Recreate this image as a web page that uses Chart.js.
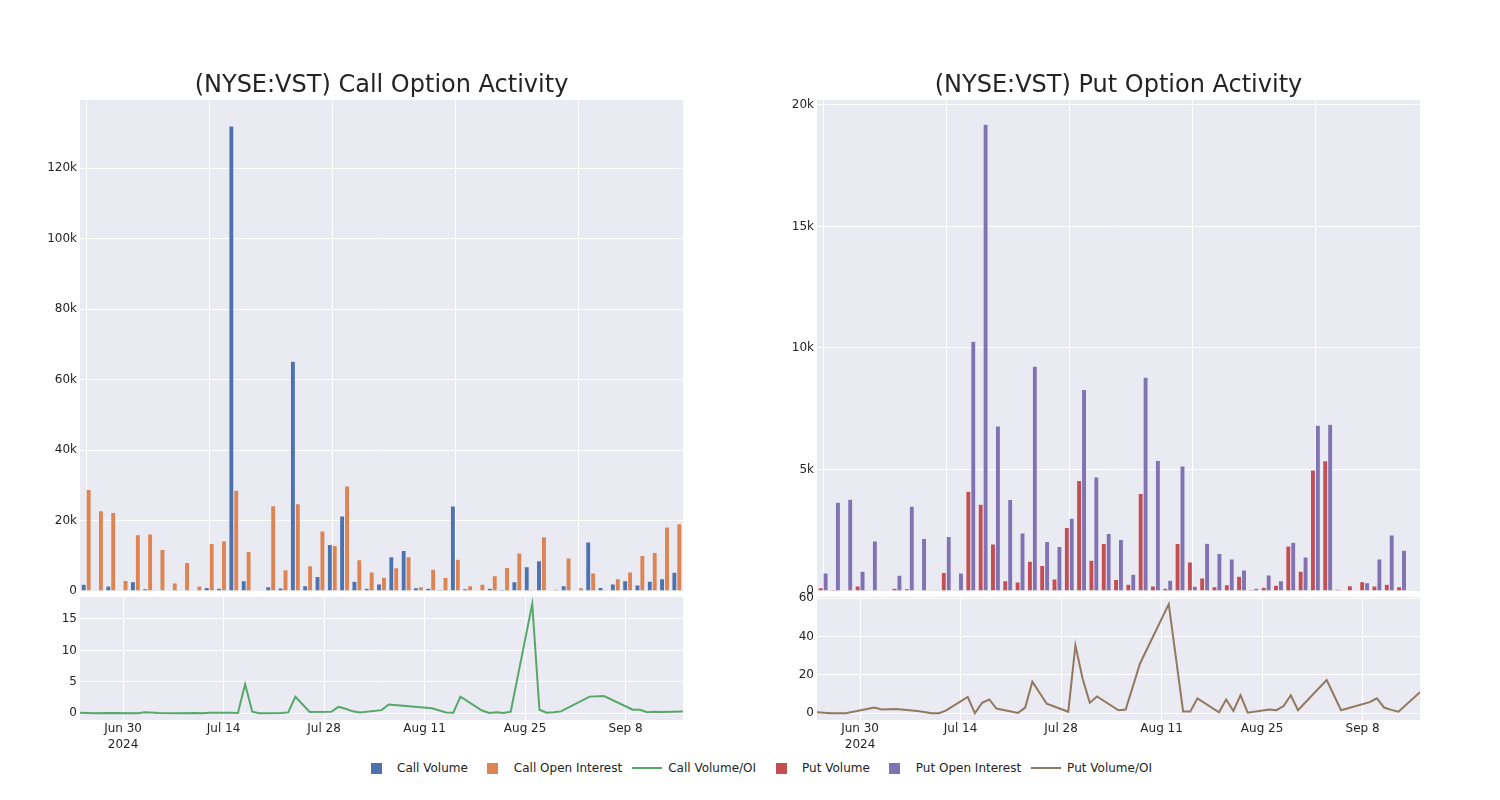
<!DOCTYPE html>
<html>
<head>
<meta charset="utf-8">
<script src="https://cdn.jsdelivr.net/npm/chart.js@4.4.1/dist/chart.umd.min.js"></script>
<style>
  body { margin: 0; background: #fff; width: 1500px; height: 800px; position: relative; overflow: hidden; }
  canvas { position: absolute; }
  #legend { position: absolute; left: 356px; top: 760px; height: 16px; display: flex; align-items: center;
            font-family: 'DejaVu Sans'; font-size: 12px; color: #242424; white-space: nowrap; }
  .item { display: flex; align-items: center; margin-right: 5px; }
  .sym { width: 40px; height: 16px; display: flex; align-items: center; justify-content: center; }
  .sq { width: 11px; height: 11px; }
  .ln { width: 30px; height: 2px; }
</style>
</head>
<body>
<canvas id="callTop" width="703" height="541" style="left:30px;top:60px"></canvas>
<canvas id="callBot" width="703" height="170" style="left:30px;top:590px"></canvas>
<canvas id="putTop" width="703" height="541" style="left:767px;top:60px"></canvas>
<canvas id="putBot" width="703" height="170" style="left:767px;top:590px"></canvas>
<div id="legend"></div>
<script>
// trading days in the data
var dates = ['2024-06-24','2024-06-26','2024-06-28','2024-07-02','2024-07-03','2024-07-05','2024-07-08',
  '2024-07-10','2024-07-11','2024-07-12','2024-07-15','2024-07-16','2024-07-17','2024-07-18','2024-07-19',
  '2024-07-22','2024-07-23','2024-07-24','2024-07-26','2024-07-29','2024-07-30','2024-07-31','2024-08-01',
  '2024-08-02','2024-08-05','2024-08-06','2024-08-08','2024-08-12','2024-08-14','2024-08-15','2024-08-16',
  '2024-08-19','2024-08-20','2024-08-21','2024-08-22','2024-08-23','2024-08-26','2024-08-27','2024-08-28',
  '2024-08-29','2024-08-30','2024-09-03','2024-09-05','2024-09-09','2024-09-10','2024-09-11','2024-09-12',
  '2024-09-13','2024-09-16'];

var callVolume = [1900,200,1400,0,2650,660,200,100,200,100,1000,760,132000,2900,0,1200,850,65200,1500,4100,
  13200,21300,2800,760,2000,9700,11500,950,760,400,24100,660,100,760,400,2650,6900,8600,100,1500,200,13900,
  1000,2000,2900,1700,2750,3500,5300];
var callOI = [28800,22800,22300,3000,16000,16200,11800,2300,8100,1400,13500,14200,28600,11200,200,24200,6000,
  24800,7200,17000,12900,29800,8900,5400,3900,6600,9700,1200,6200,3800,9000,1500,1900,4300,6700,10800,400,
  15400,500,9400,950,5100,350,3500,5400,10100,10900,18200,19100];
var callRatio = [0.07,0.01,0.06,0,0.17,0.04,0.02,0.04,0.02,0.07,0.07,0.05,4.6,0.26,0,0.05,0.14,2.63,0.21,0.24,
  1.02,0.71,0.31,0.14,0.5,1.4,1.19,0.8,0.12,0.1,2.65,0.44,0.05,0.18,0.06,0.25,17.4,0.56,0.1,0.16,0.3,2.65,
  2.75,0.57,0.55,0.17,0.25,0.19,0.28];

var putVolume = [137,55,27,206,27,10,110,96,14,10,756,10,4108,3572,1937,426,371,1223,1044,495,2611,4548,1264,
  1951,475,275,4012,206,110,1951,1195,536,179,261,605,55,151,234,1855,811,4974,5359,69,220,385,206,275,179,14];
var putOI = [742,3655,3779,811,2061,10,646,3490,2157,10,2240,742,10277,19200,6787,3765,2391,9247,2034,1827,
  2995,8285,4685,2363,2116,687,8794,5372,440,5139,192,1965,1539,1319,866,110,660,426,2006,1401,6815,6856,27,
  14,344,1319,2308,1676,0];
var putRatio = [0.5,0,0,3.0,2.0,2.2,1.2,0,0,1.5,8.5,0,5.5,7.2,2.5,0.2,3.0,16.5,5.0,0.8,35.5,18,5.5,8.8,1.6,2.0,
  26,57,1.0,1.0,7.8,0.5,7.2,1.2,9.4,0.3,2.0,1.6,3.8,9.4,1.6,17.4,1.6,5.8,7.8,3.0,1.8,0.8,11];

var tickDates = ['2024-06-30','2024-07-14','2024-07-28','2024-08-11','2024-08-25','2024-09-08'];
var tickLabels = [['Jun 30','2024'],'Jul 14','Jul 28','Aug 11','Aug 25','Sep 8'];

var blue = '#4C72B0', orange = '#DD8452', green = '#55A868', red = '#C44E52', purple = '#8172B3', brown = '#937860';

Chart.defaults.font.family = 'DejaVu Sans';
Chart.defaults.font.size = 12;
Chart.defaults.color = '#242424';

function dayNum(d) { return (Date.parse(d) - Date.parse('2024-06-24')) / 86400000; }

var bgPlugin = {
  id: 'bg',
  beforeDraw: function(chart) {
    var a = chart.chartArea, c = chart.ctx;
    c.save(); c.fillStyle = '#EAEAF2';
    c.fillRect(a.left, a.top, a.right - a.left, a.bottom - a.top);
    c.restore();
  }
};

function kFmt(v) { return v === 0 ? '0' : (v / 1000) + 'k'; }

function fixY(s) { s.width = 50; s.paddingTop = 0; s.paddingBottom = 0; }

// empty axis on the right so the title centres over the plot
var spacer = { position: 'right', grid: { display: false }, ticks: { display: false }, border: { display: false },
               afterFit: function(s) { s.width = 50; s.paddingTop = 0; s.paddingBottom = 0; } };

function barChart(id, title, vol, oi, c1, c2, ymax, yticks) {
  return new Chart(document.getElementById(id), {
    type: 'bar',
    plugins: [bgPlugin],
    data: {
      labels: dates,
      datasets: [
        { data: vol, backgroundColor: c1, borderColor: '#EAEAF2', borderWidth: 0.5, barPercentage: 1, categoryPercentage: 0.8 },
        { data: oi, backgroundColor: c2, borderColor: '#EAEAF2', borderWidth: 0.5, barPercentage: 1, categoryPercentage: 0.8 }
      ]
    },
    options: {
      responsive: false, animation: false,
      layout: { padding: { left: 0, right: 0, top: 0, bottom: 10 } },
      plugins: {
        legend: { display: false }, tooltip: { enabled: false },
        title: { display: true, text: title, font: { size: 24, weight: 'normal' }, color: '#242424',
                 padding: { top: 11.2, bottom: 0 } }
      },
      scales: {
        x: {
          offset: true,
          ticks: { display: false },
          border: { display: false },
          grid: { offset: false, drawTicks: false, lineWidth: 1,
                  color: function(ctx) { return ctx.index % 10 === 0 ? '#ffffff' : 'rgba(0,0,0,0)'; } },
          afterFit: function(s) { s.height = 0; }
        },
        y: {
          min: 0, max: ymax,
          border: { display: false },
          grid: { color: '#ffffff', drawTicks: false },
          ticks: { padding: 3, callback: kFmt },
          afterBuildTicks: function(s) { s.ticks = yticks.map(function(v) { return { value: v }; }); },
          afterFit: fixY
        },
        y2: spacer
      }
    }
  });
}

function lineChart(id, ratio, col, ymin, ymax, yticks) {
  return new Chart(document.getElementById(id), {
    type: 'line',
    plugins: [bgPlugin],
    data: {
      datasets: [{
        data: dates.map(function(d, i) { return { x: dayNum(d), y: ratio[i] }; }),
        borderColor: col, borderWidth: 2, pointRadius: 0, tension: 0, fill: false
      }]
    },
    options: {
      responsive: false, animation: false,
      layout: { padding: { left: 0, right: 0, top: 7, bottom: 0 } },
      plugins: { legend: { display: false }, tooltip: { enabled: false } },
      scales: {
        x: {
          type: 'linear', min: 0, max: 84,
          border: { display: false },
          grid: { color: '#ffffff', drawTicks: false },
          ticks: { padding: 1, autoSkip: false, maxRotation: 0, font: { lineHeight: 1.35 },
                   callback: function(v, i) { return tickLabels[i]; } },
          afterBuildTicks: function(s) { s.ticks = tickDates.map(function(d) { return { value: dayNum(d) }; }); },
          afterFit: function(s) { s.height = 40; s.paddingLeft = 0; s.paddingRight = 0; }
        },
        y: {
          min: ymin, max: ymax,
          border: { display: false },
          grid: { color: '#ffffff', drawTicks: false },
          ticks: { padding: 3 },
          afterBuildTicks: function(s) { s.ticks = yticks.map(function(v) { return { value: v }; }); },
          afterFit: fixY
        },
        y2: spacer
      }
    }
  });
}

barChart('callTop', '(NYSE:VST) Call Option Activity', callVolume, callOI, blue, orange, 139400,
  [0, 20000, 40000, 60000, 80000, 100000, 120000]);
lineChart('callBot', callRatio, green, -1.07, 18.5, [0, 5, 10, 15]);
barChart('putTop', '(NYSE:VST) Put Option Activity', putVolume, putOI, red, purple, 20200,
  [0, 5000, 10000, 15000, 20000]);
lineChart('putBot', putRatio, brown, -3.5, 60.7, [0, 20, 40, 60]);

// legend
var legendItems = [
  { label: 'Call Volume', color: blue, kind: 'sq' },
  { label: 'Call Open Interest', color: orange, kind: 'sq' },
  { label: 'Call Volume/OI', color: green, kind: 'ln' },
  { label: 'Put Volume', color: red, kind: 'sq' },
  { label: 'Put Open Interest', color: purple, kind: 'sq' },
  { label: 'Put Volume/OI', color: brown, kind: 'ln' }
];
var leg = document.getElementById('legend');
legendItems.forEach(function(it) {
  var d = document.createElement('div'); d.className = 'item';
  var s = document.createElement('div'); s.className = 'sym';
  var m = document.createElement('div'); m.className = it.kind; m.style.background = it.color;
  s.appendChild(m); d.appendChild(s);
  var t = document.createElement('span'); t.textContent = it.label; t.style.marginLeft = '1px';
  d.appendChild(t); leg.appendChild(d);
});
</script>
</body>
</html>
